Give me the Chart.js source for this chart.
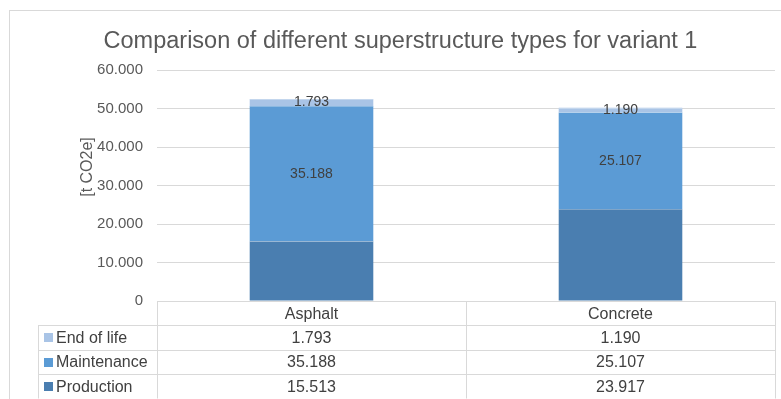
<!DOCTYPE html>
<html>
<head>
<meta charset="utf-8">
<script src="https://cdn.jsdelivr.net/npm/chart.js@4.4.1/dist/chart.umd.min.js"></script>
<style>
  html, body { margin: 0; padding: 0; background: #fff; }
  #wrap { width: 781px; height: 399px; position: relative; }
</style>
</head>
<body>
<div id="wrap"><canvas id="chart"></canvas></div>
<script>
const categories = ["Asphalt", "Concrete"];
const production = [15513, 23917];
const maintenance = [35188, 25107];
const endOfLife = [1793, 1190];
const seriesNames = ["Production", "Maintenance", "End of life"];
const seriesColors = ["#4a7eb0", "#5b9bd5", "#a9c4e6"];
const showLabels = [false, true, true];
const yTicks = [0, 10000, 20000, 30000, 40000, 50000, 60000];

const FONT = "'Liberation Sans', Arial, sans-serif";
const TEXT = "#404040";
const GRID = "#d9d9d9";

// 15513 -> "15.513"
function fmt(v) {
  return String(Math.round(v)).replace(/\B(?=(\d{3})+(?!\d))/g, ".");
}

const frame = {
  id: "frame",
  beforeDraw(chart) {
    const ctx = chart.ctx;
    ctx.save();
    ctx.fillStyle = "#fff";
    ctx.fillRect(0, 0, chart.width, chart.height);
    ctx.strokeStyle = GRID;
    ctx.lineWidth = 1;
    ctx.strokeRect(9.5, 10.5, chart.width + 20, chart.height + 20);
    ctx.restore();
  }
};

const barLabels = {
  id: "barLabels",
  afterDatasetsDraw(chart) {
    const ctx = chart.ctx;
    ctx.save();
    ctx.font = "14px " + FONT;
    ctx.fillStyle = TEXT;
    ctx.textAlign = "center";
    ctx.textBaseline = "middle";
    chart.data.datasets.forEach((ds, i) => {
      const meta = chart.getDatasetMeta(i);
      meta.data.forEach((bar, j) => {
        // thin light seam on top of each segment
        ctx.fillStyle = "rgba(255,255,255,0.3)";
        ctx.fillRect(bar.x - bar.width / 2, Math.round(bar.y), bar.width, 1);
        if (showLabels[i]) {
          ctx.fillStyle = TEXT;
          ctx.fillText(fmt(ds.data[j]), bar.x, (bar.y + bar.base) / 2);
        }
      });
    });
    ctx.restore();
  }
};

const dataTable = {
  id: "dataTable",
  afterDraw(chart) {
    const ctx = chart.ctx;
    const area = chart.chartArea;
    const x = chart.scales.x;
    const n = categories.length;
    const colW = (area.right - area.left) / n;
    const legendLeft = 38;
    const headerH = 23.5;
    const rowH = 24.5;
    const top = Math.round(area.bottom) + 0.5;

    // y axis title
    ctx.save();
    ctx.translate(88, 167);
    ctx.rotate(-Math.PI / 2);
    ctx.font = "16px " + FONT;
    ctx.fillStyle = "#595959";
    ctx.textAlign = "center";
    ctx.textBaseline = "middle";
    ctx.fillText("[t CO2e]", 0, 0);
    ctx.restore();

    ctx.save();
    ctx.strokeStyle = GRID;
    ctx.lineWidth = 1;
    const line = (x1, y1, x2, y2) => {
      ctx.beginPath();
      ctx.moveTo(x1, y1);
      ctx.lineTo(x2, y2);
      ctx.stroke();
    };
    const cols = [];
    for (let i = 0; i <= n; i++) cols.push(Math.round(area.left + i * colW) + 0.5);
    const rows = [top, top + headerH];
    for (let r = 0; r < seriesNames.length; r++) rows.push(top + headerH + (r + 1) * rowH);

    // header row
    line(cols[0], rows[0], cols[n], rows[0]);
    cols.forEach(cx => line(cx, rows[0], cx, rows[rows.length - 1]));
    // body rows
    for (let r = 1; r < rows.length; r++) line(legendLeft + 0.5, Math.round(rows[r]) + 0.5, cols[n], Math.round(rows[r]) + 0.5);
    line(legendLeft + 0.5, rows[1], legendLeft + 0.5, rows[rows.length - 1]);

    ctx.font = "16px " + FONT;
    ctx.fillStyle = TEXT;
    ctx.textBaseline = "middle";
    ctx.textAlign = "center";
    categories.forEach((c, i) => {
      ctx.fillText(c, x.getPixelForValue(i), (rows[0] + rows[1]) / 2 + 1);
    });

    // series rows, top row is the last series
    const series = chart.data.datasets.slice().reverse();
    series.forEach((ds, r) => {
      const cy = (rows[r + 1] + rows[r + 2]) / 2 + 1;
      ctx.fillStyle = ds.backgroundColor;
      ctx.fillRect(44, Math.round(cy - 5), 9, 9);
      ctx.fillStyle = TEXT;
      ctx.textAlign = "left";
      ctx.fillText(ds.label, 56, cy);
      ctx.textAlign = "center";
      ds.data.forEach((v, j) => ctx.fillText(fmt(v), x.getPixelForValue(j), cy));
    });
    ctx.restore();
  }
};

const seriesData = [production, maintenance, endOfLife];

new Chart(document.getElementById("chart"), {
  type: "bar",
  data: {
    labels: categories,
    datasets: seriesNames.map((name, i) => ({
      label: name,
      data: seriesData[i],
      backgroundColor: seriesColors[i],
      borderWidth: 0,
      barPercentage: 0.4,
      categoryPercentage: 1
    }))
  },
  options: {
    responsive: true,
    maintainAspectRatio: false,
    animation: false,
    layout: { padding: { left: 26, right: 6, top: 0, bottom: 98 } },
    plugins: {
      legend: { display: false },
      tooltip: { enabled: false },
      title: {
        display: true,
        text: "Comparison of different superstructure types for variant 1",
        color: "#595959",
        font: { family: FONT, size: 23.5, weight: "normal" },
        padding: { top: 27, bottom: 15 }
      }
    },
    scales: {
      x: {
        stacked: true,
        display: false
      },
      y: {
        stacked: true,
        min: 0,
        max: 60000,
        afterBuildTicks(scale) {
          scale.ticks = yTicks.map(v => ({ value: v }));
        },
        afterFit(scale) {
          scale.width = 131;
        },
        border: { display: false },
        grid: { color: GRID, drawTicks: false },
        ticks: {
          color: "#595959",
          font: { family: FONT, size: 15 },
          padding: 14,
          callback: v => fmt(v)
        }
      }
    }
  },
  plugins: [frame, barLabels, dataTable]
});
</script>
</body>
</html>
